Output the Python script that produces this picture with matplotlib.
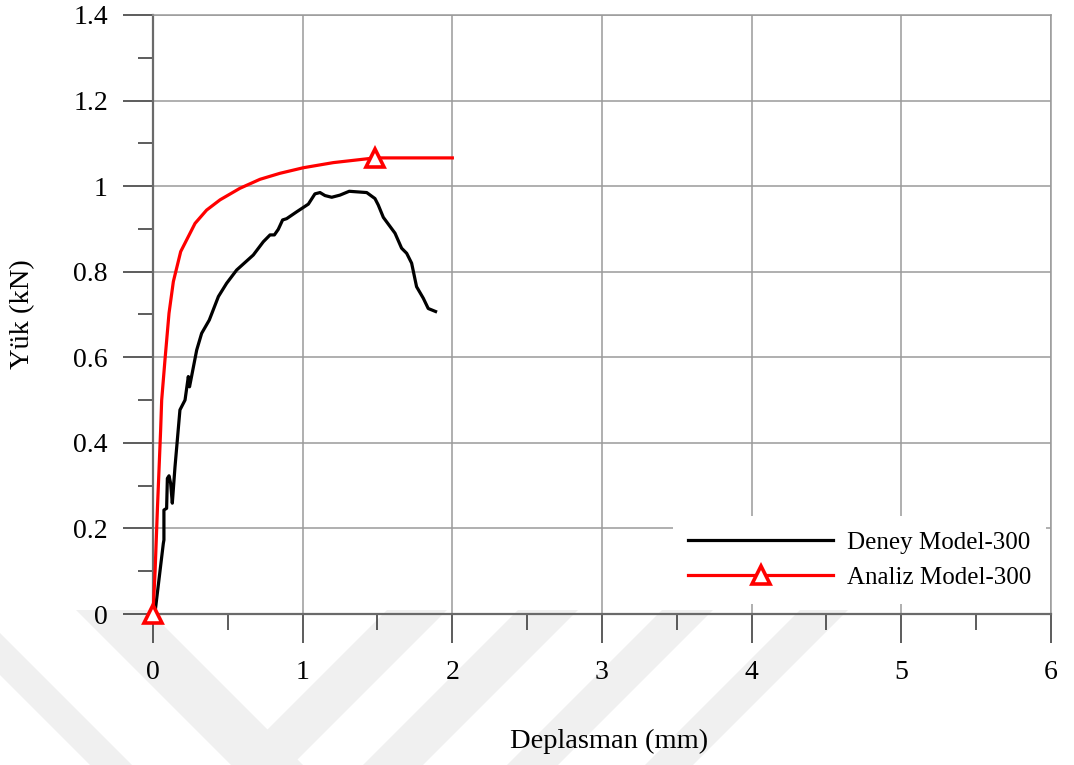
import matplotlib
matplotlib.use("Agg")
import matplotlib.pyplot as plt
from matplotlib.patches import Polygon
from matplotlib.ticker import MultipleLocator

plt.rcParams['font.family'] = ['Liberation Serif', 'DejaVu Serif']

# ---- data ----
deney_x = [0.007, 0.013, 0.069, 0.073, 0.073, 0.091, 0.096, 0.107, 0.118, 0.129,
           0.147, 0.180, 0.214, 0.236, 0.244, 0.252, 0.292, 0.325, 0.376, 0.437,
           0.492, 0.559, 0.670, 0.737, 0.782, 0.811, 0.837, 0.866, 0.893, 0.960,
           1.038, 1.082, 1.116, 1.149, 1.194, 1.249, 1.311, 1.428, 1.483, 1.505,
           1.539, 1.617, 1.661, 1.695, 1.728, 1.761, 1.806, 1.839, 1.888]
deney_y = [0.000, 0.002, 0.165, 0.173, 0.243, 0.247, 0.317, 0.323, 0.305, 0.259,
           0.344, 0.477, 0.500, 0.555, 0.531, 0.545, 0.617, 0.656, 0.687, 0.742,
           0.773, 0.804, 0.839, 0.870, 0.886, 0.886, 0.899, 0.921, 0.924, 0.940,
           0.958, 0.982, 0.985, 0.978, 0.974, 0.979, 0.988, 0.985, 0.971, 0.956,
           0.927, 0.890, 0.855, 0.843, 0.820, 0.765, 0.738, 0.714, 0.707]

analiz_x = [0.0, 0.014, 0.030, 0.051, 0.058, 0.080, 0.107, 0.136, 0.185, 0.281,
            0.358, 0.448, 0.581, 0.715, 0.848, 1.004, 1.205, 1.483, 2.0]
analiz_y = [0.0, 0.10, 0.25, 0.43, 0.50, 0.594, 0.703, 0.777, 0.847, 0.913,
            0.944, 0.968, 0.995, 1.016, 1.030, 1.043, 1.055, 1.066, 1.066]
analiz_marker_idx = [0, 17]

x_ticks = [0, 1, 2, 3, 4, 5, 6]
y_ticks = [0, 0.2, 0.4, 0.6, 0.8, 1.0, 1.2, 1.4]
y_ticklabels = ['0', '0.2', '0.4', '0.6', '0.8', '1', '1.2', '1.4']

label_deney = 'Deney Model-300'
label_analiz = 'Analiz Model-300'
xlabel = 'Deplasman (mm)'
ylabel = 'Yük (kN)'

W, H = 1074, 765
fig = plt.figure(figsize=(W / 100, H / 100), dpi=100)

# ---- faint watermark chevrons in the background ----
bg = fig.add_axes([0, 0, 1, 1], zorder=-10)
bg.set_xlim(0, W)
bg.set_ylim(H, 0)
bg.axis('off')
wm_color = '#f0f0f0'
top, drop = 610, 155
for x0, w in [(-65, 42), (76, 72)]:          # descending arms
    bg.add_patch(Polygon([(x0, top), (x0 + w, top), (x0 + w + drop, H), (x0 + drop, H)],
                         closed=True, color=wm_color, lw=0))
for x0, w in [(387, 60), (518, 60), (662, 51), (800, 48)]:  # ascending arms
    bg.add_patch(Polygon([(x0, top), (x0 + w, top), (x0 + w - drop, H), (x0 - drop, H)],
                         closed=True, color=wm_color, lw=0))

# ---- main axes ----
ax = fig.add_axes([153 / W, (H - 614) / H, 898 / W, 599 / H])
ax.set_facecolor('none')
ax.set_xlim(0, 6)
ax.set_ylim(0, 1.4)

ax.plot(deney_x, deney_y, color='black', lw=2.3, label=label_deney, zorder=4)
ax.plot(analiz_x, analiz_y, color='#ff0000', lw=2.3, marker='^', markersize=13,
        markerfacecolor='white', markeredgecolor='#ff0000', markeredgewidth=2.6,
        markevery=analiz_marker_idx, label=label_analiz, zorder=5, clip_on=False)

ax.set_xticks(x_ticks)
ax.set_xticklabels([str(v) for v in x_ticks])
ax.set_yticks(y_ticks)
ax.set_yticklabels(y_ticklabels)
ax.xaxis.set_minor_locator(MultipleLocator(0.5))
ax.yaxis.set_minor_locator(MultipleLocator(0.1))

ax.grid(True, which='major', color='#9a9a9a', lw=1.1, zorder=0)
ax.set_axisbelow(True)
for s in ['top', 'right']:
    ax.spines[s].set_color('#9a9a9a')
    ax.spines[s].set_linewidth(1.1)
for s in ['left', 'bottom']:
    ax.spines[s].set_color('#6a6a6a')
    ax.spines[s].set_linewidth(1.6)

ax.tick_params(axis='both', which='major', direction='out', color='#303030',
               width=1.1, labelsize=20)
ax.tick_params(axis='x', which='major', length=21, pad=12)
ax.tick_params(axis='y', which='major', length=21.5, pad=11)
ax.tick_params(axis='x', which='minor', length=11.5, width=1.1, color='#303030')
ax.tick_params(axis='y', which='minor', length=10.5, width=1.1, color='#303030')

ax.set_xlabel(xlabel, fontsize=20.5)
ax.set_ylabel(ylabel, fontsize=20.5)
ax.xaxis.set_label_coords((609 - 153) / 898, (614 - 741) / 599)
ax.xaxis.label.set_va('center')
ax.yaxis.set_label_coords((23 - 153) / 898, 0.5)
ax.yaxis.label.set_va('center')

leg = ax.legend(loc='center', bbox_to_anchor=((860 - 153) / 898, (614 - 560) / 599),
                fontsize=18, frameon=True, fancybox=False, framealpha=1,
                facecolor='white', edgecolor='none', handlelength=5.8,
                handletextpad=0.55, labelspacing=0.5, borderpad=0.6)
leg.set_zorder(10)

fig.savefig('out.png', dpi=100)
